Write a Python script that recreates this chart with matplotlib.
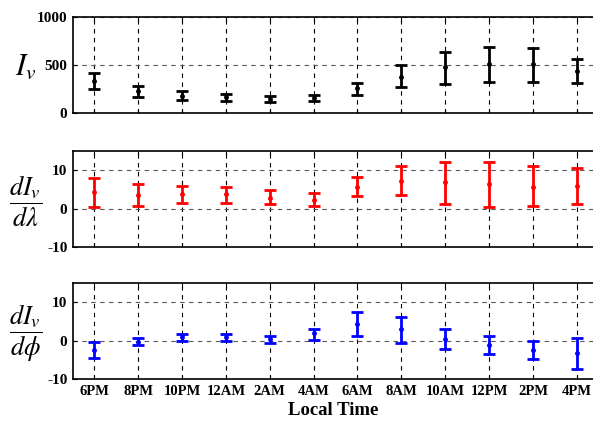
# Diurnal variation of I_v and its gradients, error bars per local time

import matplotlib
matplotlib.use('Agg')
import matplotlib.pyplot as plt

plt.rcParams.update({'font.family': 'Liberation Serif', 'mathtext.fontset': 'stix'})

times = ['6PM', '8PM', '10PM', '12AM', '2AM', '4AM',
         '6AM', '8AM', '10AM', '12PM', '2PM', '4PM']

# I_v : mean, lower, upper
iv_mean = [330, 227, 182, 164, 150, 158, 258, 381, 479, 511, 511, 441]
iv_low = [252, 168, 132, 122, 111, 122, 185, 269, 305, 329, 329, 318]
iv_high = [413, 280, 227, 203, 182, 189, 315, 497, 636, 689, 678, 563]

# dI_v/dlambda
dl_mean = [4.3, 3.5, 3.7, 3.7, 2.85, 2.3, 5.7, 7.1, 6.8, 6.3, 5.7, 6.0]
dl_low = [0.3, 0.7, 1.55, 1.5, 1.3, 0.6, 3.4, 3.5, 1.2, 0.35, 0.7, 1.2]
dl_high = [8.0, 6.3, 5.9, 5.7, 4.75, 4.05, 8.2, 11.0, 12.1, 12.1, 11.1, 10.5]

# dI_v/dphi
dp_mean = [-2.4, -0.26, 0.9, 0.9, 0.35, 1.9, 4.4, 2.9, 0.5, -1.2, -2.5, -3.3]
dp_low = [-4.6, -1.1, 0.0, 0.0, -0.5, 0.2, 1.1, -0.5, -2.1, -3.6, -4.8, -7.3]
dp_high = [-0.4, 0.6, 1.75, 1.75, 1.1, 3.1, 7.4, 6.2, 3.1, 1.2, -0.1, 0.6]

x = list(range(len(times)))

fig = plt.figure(figsize=(5.93, 4.22), dpi=100)
panels = [
    (0.732, iv_mean, iv_low, iv_high, 'black', (0, 1000), [0, 500, 1000], r'$I_v$', 22),
    (0.4147, dl_mean, dl_low, dl_high, 'red', (-10, 15), [-10, 0, 10], r'$\dfrac{dI_v}{d\lambda}$', 19),
    (0.1019, dp_mean, dp_low, dp_high, 'blue', (-10, 15), [-10, 0, 10], r'$\dfrac{dI_v}{d\phi}$', 19),
]

for bottom, m, lo, hi, col, ylim, yt, lab, lsize in panels:
    ax = fig.add_axes([0.123, bottom, 0.877, 0.2275])
    err = [[mi - l for mi, l in zip(m, lo)], [h - mi for mi, h in zip(m, hi)]]
    ax.errorbar(x, m, yerr=err, fmt='o', color=col, ms=2.5, lw=2,
                capsize=4, capthick=2)
    ax.set_xlim(-0.486, 11.37)
    ax.set_ylim(*ylim)
    ax.set_yticks(yt)
    ax.set_yticklabels([str(v) for v in yt], fontweight='bold')
    ax.set_xticks(x)
    ax.grid(True, color='k', linestyle=(0, (4, 4)), linewidth=0.8)
    for gl in ax.get_ygridlines():
        gl.set_color('0.35')
    ax.spines['right'].set_visible(False)
    for s in ['top', 'left', 'bottom']:
        ax.spines[s].set_linewidth(1.2)
    ax.tick_params(direction='in', length=3, top=True, labelsize=11, pad=4)
    if bottom < 0.2:
        ax.set_xticklabels(times, fontweight='bold', fontsize=10.5)
        ax.set_xlabel('Local Time', fontsize=13.5, fontweight='bold', labelpad=3)
    else:
        ax.set_xticklabels([])
    fig.text(0.043, bottom + 0.2275 / 2 - 0.005, lab, fontsize=lsize,
             ha='center', va='center')

fig.savefig('out.png', dpi=100)
